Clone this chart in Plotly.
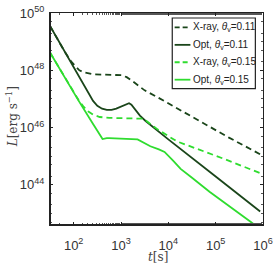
import plotly.graph_objects as go

# log10(t [s]) and log10(L [erg/s])
logt_xray011 = [1.5, 1.8, 1.95, 2.04, 2.12, 2.21, 2.41, 3.01, 3.12, 3.22, 3.35, 3.5, 3.76, 5.27, 5.94]
logL_xray011 = [49.55, 48.68, 48.3, 48.12, 48.0, 47.93, 47.86, 47.83, 47.76, 47.65, 47.48, 47.3, 47.07, 45.66, 45.07]

logt_opt011 = [1.5, 2.0, 2.3, 2.41, 2.5, 2.6, 2.7, 2.8, 2.9, 3.0, 3.1, 3.17, 3.22, 3.3, 3.4, 3.52, 3.7, 4.0, 5.0, 5.94]
logL_opt011 = [49.55, 48.1, 47.22, 46.93, 46.76, 46.66, 46.62, 46.62, 46.66, 46.73, 46.81, 46.85, 46.8, 46.62, 46.42, 46.23, 45.98, 45.59, 44.29, 43.07]

logt_xray015 = [1.5, 1.84, 2.1, 2.2, 2.31, 2.41, 2.55, 2.75, 3.48, 3.6, 3.78, 4.18, 5.19, 5.94]
logL_xray015 = [48.62, 47.66, 46.97, 46.75, 46.56, 46.45, 46.37, 46.34, 46.31, 46.15, 45.93, 45.52, 44.9, 44.41]

logt_opt015 = [1.5, 1.84, 2.1, 2.4, 2.61, 2.7, 2.75, 3.35, 3.5, 3.62, 3.8, 3.92, 4.1, 4.26, 4.5, 4.87, 5.73, 5.85]
logL_opt015 = [48.62, 47.66, 46.95, 46.15, 45.6, 45.63, 45.63, 45.59, 45.47, 45.35, 45.24, 45.15, 44.85, 44.56, 44.25, 43.76, 42.72, 42.57]

names = ["X-ray, <i>θ</i><sub>v</sub>=0.11", "Opt, <i>θ</i><sub>v</sub>=0.11",
         "X-ray, <i>θ</i><sub>v</sub>=0.15", "Opt, <i>θ</i><sub>v</sub>=0.15"]

x_ticks = [1e2, 1e3, 1e4, 1e5, 1e6]
x_ticktext = ["10<sup>2</sup>", "10<sup>3</sup>", "10<sup>4</sup>", "10<sup>5</sup>", "10<sup>6</sup>"]
y_ticks = [1e44, 1e46, 1e48, 1e50]
y_ticktext = ["10<sup>44</sup>", "10<sup>46</sup>", "10<sup>48</sup>", "10<sup>50</sup>"]

DARK = "#1a451a"
LIGHT = "#2fdc2f"

series = [
    (logt_xray011, logL_xray011, DARK, "6px,4px"),
    (logt_opt011, logL_opt011, DARK, "solid"),
    (logt_xray015, logL_xray015, LIGHT, "6px,4px"),
    (logt_opt015, logL_opt015, LIGHT, "solid"),
]

W, H = 277, 265
ML, MR, MT, MB = 50, 4, 12, 40
PW, PH = W - ML - MR, H - MT - MB


def px(xp):
    return (xp - ML) / PW


def py(yp):
    return 1 - (yp - MT) / PH


fig = go.Figure()
for (lt, lL, col, dash), nm in zip(series, names):
    fig.add_trace(go.Scatter(
        x=[10 ** v for v in lt], y=[10 ** v for v in lL], mode="lines", name=nm,
        line=dict(color=col, width=1.8, dash=dash), showlegend=False,
    ))

axis_common = dict(
    type="log", showgrid=False, zeroline=False, showline=True, linecolor="#222",
    linewidth=1, mirror="allticks", ticks="inside", ticklen=3, tickcolor="#222",
    tickfont=dict(family="Liberation Sans, Arial", size=13, color="#333"),
    minor=dict(ticks="inside", ticklen=2, tickcolor="#555"),
    ticklabeloverflow="allow",
)
fig.update_xaxes(range=[1.5, 6.0], tickvals=x_ticks, ticktext=x_ticktext,
                 ticklabelstandoff=8, **axis_common)
fig.update_yaxes(range=[42.6, 50.0], tickvals=y_ticks, ticktext=y_ticktext,
                 ticklabelstandoff=2, **axis_common)

# thicker left and bottom spines
fig.add_shape(type="line", xref="paper", yref="paper", x0=0, x1=0, y0=0, y1=1,
              line=dict(color="#222", width=2))
fig.add_shape(type="line", xref="paper", yref="paper", x0=0, x1=1, y0=0, y1=0,
              line=dict(color="#222", width=2))

# legend drawn by hand to match the compact box
fig.add_shape(type="rect", xref="paper", yref="paper",
              x0=px(178), x1=px(265), y0=py(88), y1=py(17),
              line=dict(color="#222", width=1.2), fillcolor="white", layer="above")
rows = [26.5, 44, 61.5, 79]
for (lt, lL, col, dash), nm, ry in zip(series, names, rows):
    fig.add_shape(type="line", xref="paper", yref="paper",
                  x0=px(180.5), x1=px(197), y0=py(ry), y1=py(ry),
                  line=dict(color=col, width=1.8,
                            dash="5px,3px" if dash != "solid" else "solid"),
                  layer="above")
    fig.add_annotation(text=nm, xref="paper", yref="paper", x=px(198), y=py(ry),
                       xanchor="left", yanchor="middle", showarrow=False,
                       font=dict(family="Liberation Sans, Arial", size=10, color="#222"))

fig.add_annotation(text="<i>L</i>[erg s<sup>−1</sup>]", xref="paper", yref="paper",
                   x=px(10), y=py(116), textangle=-90, showarrow=False,
                   font=dict(family="DejaVu Serif, Liberation Serif", size=12, color="#444"),
                   xanchor="center", yanchor="middle")
fig.add_annotation(text="<i>t</i>[s]", xref="paper", yref="paper",
                   x=px(163), y=py(257), showarrow=False,
                   font=dict(family="DejaVu Serif, Liberation Serif", size=12, color="#444"),
                   xanchor="center", yanchor="middle")

fig.update_layout(
    width=W, height=H,
    margin=dict(l=ML, r=MR, t=MT, b=MB),
    paper_bgcolor="white", plot_bgcolor="white",
    showlegend=False,
)

fig.write_html("out.html")
